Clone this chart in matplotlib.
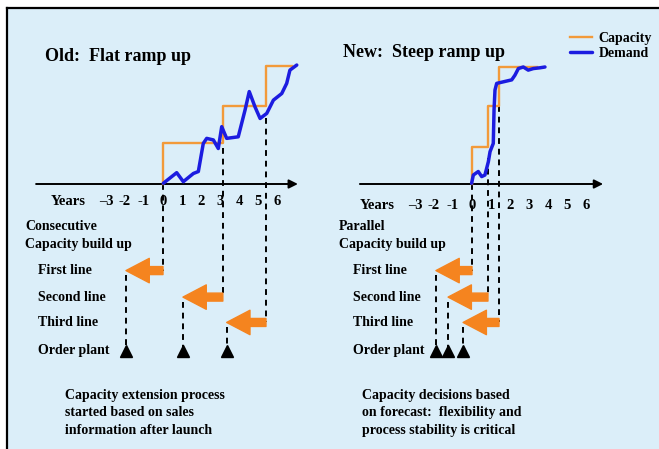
import matplotlib.pyplot as plt
from matplotlib.patches import Rectangle
from matplotlib.lines import Line2D

# year axis labels
year_ticks = [-3, -2, -1, 0, 1, 2, 3, 4, 5, 6]
year_labels = ["\u20133", "-2", "-1", "0", "1", "2", "3", "4", "5", "6"]

# old: consecutive capacity build up (x in years, y in capacity units)
old_cap_x = [0, 0, 3.15, 5.42, 6.8]
old_cap_y = [0, 1.05, 2.0, 3.03, 3.03]
old_dem_x = [0.02, 0.72, 1.07, 1.6, 1.86, 2.12, 2.3, 2.65, 2.91, 3.09, 3.35,
             3.96, 4.32, 4.54, 4.84, 5.11, 5.46, 5.81, 6.25, 6.51, 6.68, 7.04]
old_dem_y = [0.02, 0.29, 0.06, 0.27, 0.32, 1.04, 1.17, 1.13, 0.91, 1.47, 1.17,
             1.21, 1.9, 2.37, 1.98, 1.68, 1.81, 2.15, 2.32, 2.58, 2.92, 3.05]
old_line_start = [0, 3.15, 5.42]
old_order = [-1.95, 1.05, 3.35]
old_guide_top = [0, 0.92, 1.69]

# new: parallel capacity build up
new_cap_x = [0, 0, 0.84, 1.42, 3.4]
new_cap_y = [0, 0.95, 2.0, 3.0, 3.0]
new_dem_x = [-0.02, 0.07, 0.33, 0.51, 0.68, 0.86, 0.95, 1.12, 1.16, 1.21, 1.3,
             1.65, 2.09, 2.26, 2.44, 2.7, 2.96, 3.23, 3.58, 3.84]
new_dem_y = [0.02, 0.23, 0.32, 0.19, 0.23, 0.57, 0.83, 1.04, 1.9, 2.41, 2.58,
             2.62, 2.67, 2.79, 2.96, 3.0, 2.92, 2.96, 2.98, 3.0]
new_line_start = [0, 0.84, 1.42]
new_order = [-1.9, -1.26, -0.47]
new_guide_top = [0, 0.67, 2.0]

row_names = ["First line", "Second line", "Third line"]

W, H = 659, 449
PX_YEAR, PX_UNIT, Y0 = 19.0, 39.0, 184.0
bg = "#dbeef9"
orange = "#f5841f"
cap_col = "#f29a3a"
blue = "#1c1ce0"
font = dict(family="Liberation Serif", weight="bold", color="black")

fig = plt.figure(figsize=(W / 100, H / 100), dpi=100)
fig.patch.set_facecolor("white")
fig.add_artist(Rectangle((7 / W, 0), 1 - 7 / W, 1 - 8 / H, transform=fig.transFigure,
                         facecolor=bg, edgecolor="none", zorder=0))
fig.add_artist(Line2D([7 / W, 1], [1 - 8 / H, 1 - 8 / H], color="black", lw=1.6,
                      transform=fig.transFigure))
fig.add_artist(Line2D([7 / W, 7 / W], [0, 1 - 8 / H], color="black", lw=1.6,
                      transform=fig.transFigure))

rows = [-2.22, -2.9, -3.55]
order_row = -4.27


def panel(left_px, right_px, origin_px, title, title_xy, heading, heading_x, label_x,
          axis_span, tick_y, cap_x, cap_y, dem_x, dem_y, starts, orders, tops, note, note_x):
    ax = fig.add_axes([left_px / W, 0, (right_px - left_px) / W, 1])
    ax.set_xlim((left_px - origin_px) / PX_YEAR, (right_px - origin_px) / PX_YEAR)
    ax.set_ylim(-(H - Y0) / PX_UNIT, Y0 / PX_UNIT)
    ax.axis("off")

    ax.text(title_xy[0], title_xy[1], title, fontsize=13, va="center", **font)

    # time axis
    ax.annotate("", xy=(axis_span[1], 0), xytext=(axis_span[0], 0),
                arrowprops=dict(arrowstyle="-|>", color="black", lw=1.4,
                                mutation_scale=13, shrinkA=0, shrinkB=0))
    ax.text(-5.0, tick_y, "Years", fontsize=10.5, ha="center", va="center", **font)
    for t, lab in zip(year_ticks, year_labels):
        ax.text(t, tick_y, lab, fontsize=10.5, ha="center", va="center", **font)

    cap, = ax.plot(cap_x, cap_y, drawstyle="steps-post", color=cap_col, lw=1.7, zorder=3)
    dem, = ax.plot(dem_x, dem_y, color=blue, lw=2.5, solid_joinstyle="round",
                   solid_capstyle="round", zorder=4)

    ax.text(heading_x, -1.1, heading, fontsize=10, va="center", **font)
    ax.text(heading_x, -1.55, "Capacity build up", fontsize=10, va="center", **font)
    for name, r in zip(row_names, rows):
        ax.text(label_x, r, name, fontsize=10, va="center", **font)
    ax.text(label_x, order_row, "Order plant", fontsize=10, va="center", **font)

    dash = dict(color="black", lw=1.4, dashes=(3, 2.5), zorder=2)
    for s, o, top, r in zip(starts, orders, tops, rows):
        ax.plot([s, s], [top, r], **dash)
        ax.plot([o, o], [r - 0.12, order_row], **dash)
        ax.annotate("", xy=(o, r), xytext=(s, r),
                    arrowprops=dict(arrowstyle="simple,head_length=1.05,head_width=1.1,tail_width=0.36",
                                    color=orange, mutation_scale=16, shrinkA=0, shrinkB=0),
                    zorder=5)
        ax.plot(o, order_row, marker="^", ms=9, color="black", zorder=5)

    ax.text(note_x, -5.26, note, fontsize=10, va="top", linespacing=1.42, **font)
    return cap, dem


panel(0, 329, 163, "Old:  Flat ramp up", (-6.21, 3.26), "Consecutive", -7.26, -6.58,
      (-6.68, 7.1), -0.46, old_cap_x, old_cap_y, old_dem_x, old_dem_y,
      old_line_start, old_order, old_guide_top,
      "Capacity extension process\nstarted based on sales\ninformation after launch", -5.16)

cap, dem = panel(329, 659, 472, "New:  Steep ramp up", (-6.79, 3.36), "Parallel", -7.0, -6.26,
                 (-5.9, 6.9), -0.54, new_cap_x, new_cap_y, new_dem_x, new_dem_y,
                 new_line_start, new_order, new_guide_top,
                 "Capacity decisions based\non forecast:  flexibility and\nprocess stability is critical",
                 -5.79)

fig.legend([cap, dem], ["Capacity", "Demand"], loc="upper left",
           bbox_to_anchor=(564 / W, 1 - 26 / H), frameon=False, handlelength=1.6,
           handletextpad=0.5, labelspacing=0.15, borderaxespad=0,
           prop=dict(family="Liberation Serif", weight="bold", size=10))

fig.savefig("out.png", dpi=100)
